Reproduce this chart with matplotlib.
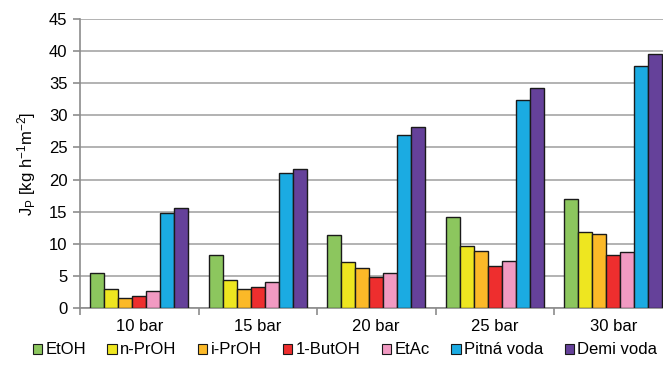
import numpy as np
import matplotlib.pyplot as plt
from matplotlib.patches import Patch

plt.rcParams['font.family'] = ['Liberation Sans', 'DejaVu Sans']
plt.rcParams['mathtext.default'] = 'regular'

pressures = ['10 bar', '15 bar', '20 bar', '25 bar', '30 bar']
liquids = ['EtOH', 'n-PrOH', 'i-PrOH', '1-ButOH', 'EtAc', 'Pitná voda', 'Demi voda']
colors = ['#8CC65E', '#EEE620', '#FBB928', '#EE2E2E', '#F19AC2', '#1BABE2', '#65419A']

etoh = [5.4, 8.2, 11.3, 14.1, 17.0]
n_proh = [2.9, 4.3, 7.2, 9.7, 11.9]
i_proh = [1.5, 2.9, 6.3, 8.9, 11.5]
butoh = [1.8, 3.3, 4.8, 6.5, 8.3]
etac = [2.6, 4.0, 5.4, 7.3, 8.7]
pitna = [14.8, 21.0, 26.9, 32.4, 37.7]
demi = [15.6, 21.7, 28.2, 34.2, 39.6]
series = [etoh, n_proh, i_proh, butoh, etac, pitna, demi]

fig = plt.figure(figsize=(6.63, 3.78), dpi=100)
ax = fig.add_axes([80 / 663, 70 / 378, 592.5 / 663, 289 / 378])

x = np.arange(len(pressures))
w = 0.118
for i, (vals, c) in enumerate(zip(series, colors)):
    ax.bar(x + (i - 3) * w, vals, w, color=c, edgecolor='#1a1a1a',
           linewidth=1.0, zorder=3)

ax.set_xlim(-0.5, len(pressures) - 0.5)
ax.set_ylim(0, 45)
ax.set_yticks(range(0, 46, 5))
ax.yaxis.grid(True, color='#A6A6A6', linewidth=1.2, zorder=0)

ax.set_xticks(x)
ax.set_xticklabels(pressures)
ax.set_xticks(np.arange(-0.5, len(pressures)), minor=True)
ax.tick_params(axis='x', which='major', length=0, pad=8, labelsize=12)
ax.tick_params(axis='x', which='minor', length=5, color='#8C8C8C', width=1.2)
ax.tick_params(axis='y', length=5, color='#8C8C8C', width=1.2, labelsize=12, pad=4)

for s in ['top', 'right']:
    ax.spines[s].set_visible(False)
for s in ['left', 'bottom']:
    ax.spines[s].set_color('#8C8C8C')
    ax.spines[s].set_linewidth(1.2)

ax.set_ylabel('J$_P$ [kg h$^{-1}$m$^{-2}$]', fontsize=12, labelpad=8)

handles = [Patch(facecolor=c, edgecolor='#1a1a1a', linewidth=0.8) for c in colors]
fig.legend(handles, liquids, loc='center', bbox_to_anchor=(345 / 663, 1 - 350 / 378),
           ncol=7, frameon=False, fontsize=12, handlelength=0.55, handleheight=0.55,
           handletextpad=0.2, columnspacing=1.3, borderpad=0)

fig.savefig('out.png', dpi=100)
